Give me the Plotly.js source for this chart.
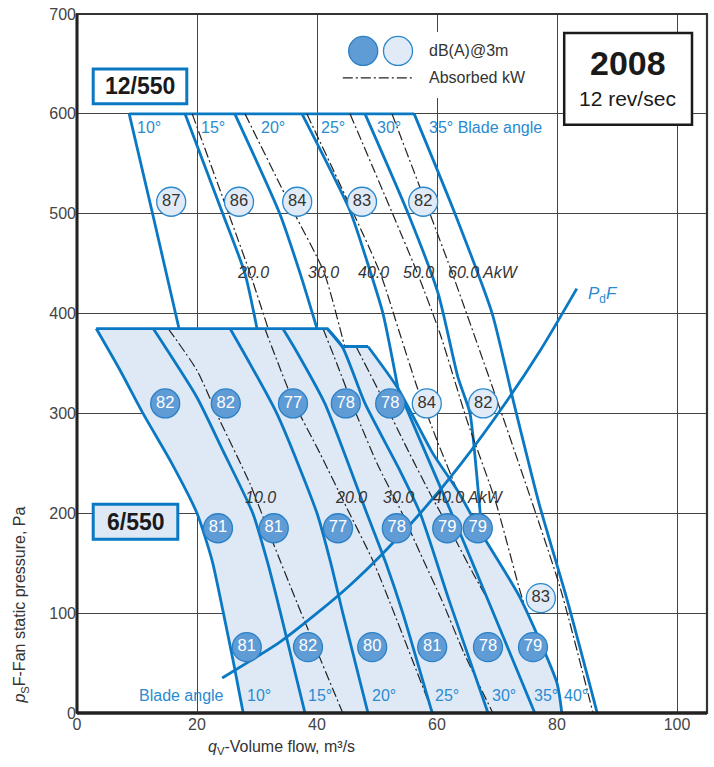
<!DOCTYPE html>
<html><head><meta charset="utf-8">
<script src="https://cdn.plot.ly/plotly-3.0.1.min.js"></script>
<style>html,body{margin:0;padding:0;background:#fff}#c{width:714px;height:767px}</style>
</head><body><div id="c"></div>
<script>
// ---------- data (volume flow m3/s, static pressure Pa) ----------
const xTicks = [0,20,40,60,80,100];
const yTicks = [0,100,200,300,400,500,600,700];

// 12/550 family (upper)
const upTopX = [8.7,56.2], upTopY = [600,600];
const up10X = [8.7,12.6,17.0], up10Y = [600,500,385];
const up15X = [18.0,24.3,28.0,30.0], up15Y = [600,500,440,385];
const up20X = [26.3,33.8,37.2,40.0], up20Y = [600,500,440,385];
const up25X = [37.5,45.5,48.3,51.0,53.5], up25Y = [600,503,453,400,325];
const up30X = [48.0,55.2,60.2,63.5,65.5,66.6,67.5], up30Y = [600,500,420,336,300,240,180];
const up35X = [56.2,63.0,69.2,72.7,77.0,81.7,86.7], up35Y = [600,500,400,313,210,113,0];
const upKW20X = [19.2,28.8,31.8,32.6], upKW20Y = [600,441,386,372];
const upKW30X = [28.0,36.0,41.2,44.5,45.5], upKW30Y = [600,503,441,370,350];
const upKW40X = [38.3,50.5,53.8,56.7,60.0,63.8,67.0], upKW40Y = [600,441,380,326,273,216,160];
const upKW50X = [45.5,56.7,60.5,65.0,69.7,73.8,75.0], upKW50Y = [600,441,380,293,213,123,100];
const upKW60X = [52.5,62.5,71.0,80.5,86.0], upKW60Y = [600,441,296,126,0];

// 6/550 family (lower, shaded)
const loTopX = [3.2,41.7,44.2,48.5], loTopY = [385,385,367,367];
const lo10X = [3.2,7.2,11.0,15.8,20.0,22.5,24.3,26.0,27.7], lo10Y = [385,343,300,250,200,153,103,53,0];
const lo15X = [12.7,20.0,24.3,29.3,31.8,33.8,38.0], lo15Y = [385,316,263,200,150,103,0];
const lo20X = [25.5,33.3,40.0,42.3,44.3,48.5], lo20Y = [385,300,200,150,100,0];
const lo25X = [34.3,36.5,41.3,48.3,51.5,54.3,59.2], lo25Y = [385,363,310,200,150,100,0];
const lo30X = [41.7,44.2,48.0,53.8,57.2,62.0,68.5], lo30Y = [385,367,310,243,200,113,0];
const lo35X = [53.5,57.2,63.5,68.3,76.3], lo35Y = [325,273,185,116,0];
const lo40X = [48.5,53.5,59.3,63.5,67.6,73.8,80.0,80.8], lo40Y = [367,325,260,222,178,116,30,0];
const loKW10X = [15.2,20.0,23.8,28.8,32.7,36.7,44.3], loKW10Y = [385,343,293,230,170,110,0];
const loKW20X = [31.3,36.0,40.5,45.0,49.5,59.3], loKW20Y = [385,313,260,205,150,0];
const loKW30X = [41.0,43.3,46.5,50.0,54.2,57.2,60.8,64.5,69.3], loKW30Y = [385,350,300,250,200,160,113,60,0];
const loKW40X = [46.5,50.5,55.0,59.0,62.5,66.0,68.5], loKW40Y = [367,320,265,218,180,140,113];

// Pd F line
const pdX = [24.2,28.8,33.8,40.0,45.5,51.0,57.2,63.8,71.7,77.2,83.3];
const pdY = [35,52,71,100,128,160,200,248,313,363,425];

// dB(A) markers
const dbDarkX = [14.7,24.8,36.0,44.8,52.2, 23.5,32.8,43.5,53.3,61.7,66.8, 28.3,38.5,49.2,59.2,68.5,76.0];
const dbDarkY = [310,310,310,310,310, 185,185,185,185,185,185, 66,66,66,66,66,66];
const dbDarkT = ['82','82','77','78','78','81','81','77','78','79','79','81','82','80','81','78','79'];
const dbLightX = [15.7,27.0,36.7,47.5,57.7,58.3,67.7,77.3];
const dbLightY = [512,512,512,512,512,310,310,115];
const dbLightT = ['87','86','84','83','82','84','82','83'];

// labels
const upAngleLbl = ['10°','15°','20°','25°','30°','35° Blade angle'];
const upAngleX = [9.7,20.3,30.3,40.3,49.7,58.3];
const loAngleLbl = ['Blade angle','10°','15°','20°','25°','30°','35°','40°'];
const loAngleX = [10.0,28.0,38.2,48.8,59.3,68.8,75.8,80.8];
const upKwLbl = ['20.0','30.0','40.0','50.0','60.0 AkW'];
const upKwX = [26.3,38.2,46.5,54.0,61.5];
const loKwLbl = ['10.0','20.0','30.0','40.0 AkW'];
const loKwX = [27.6,42.6,50.6,59.0];

// ---------- styling ----------
const BLUE = '#0a78c3', LBLUE = '#2a8bd0', FILL = '#dfe9f6';
const FONT = 'Liberation Sans, Arial, sans-serif';
const DD = '10px,3px,2px,3px';
const traces = [];
function L(x,y,color,width,dash,shape){traces.push({x:x,y:y,type:'scatter',mode:'lines',line:{color:color,width:width,dash:dash||'solid',shape:shape||'linear',smoothing:0.6},hoverinfo:'skip',showlegend:false});}

// upper family
L(upTopX,upTopY,BLUE,2.8);
[[up10X,up10Y],[up15X,up15Y],[up20X,up20Y],[up25X,up25Y],[up30X,up30Y],[up35X,up35Y]].forEach(p=>L(p[0],p[1],BLUE,2.8,'solid','spline'));
[[upKW20X,upKW20Y],[upKW30X,upKW30Y],[upKW40X,upKW40Y],[upKW50X,upKW50Y],[upKW60X,upKW60Y]].forEach(p=>L(p[0],p[1],'#222',1.2,DD,'spline'));

// lower shaded area
const fx = loTopX.concat(lo40X.slice(1), lo10X.slice().reverse());
const fy = loTopY.concat(lo40Y.slice(1), lo10Y.slice().reverse());
traces.push({x:fx,y:fy,type:'scatter',mode:'lines',fill:'toself',fillcolor:FILL,line:{width:0,color:FILL},hoverinfo:'skip',showlegend:false});

[[loKW10X,loKW10Y],[loKW20X,loKW20Y],[loKW30X,loKW30Y],[loKW40X,loKW40Y]].forEach(p=>L(p[0],p[1],'#222',1.2,DD,'spline'));
L(loTopX,loTopY,BLUE,2.8);
[[lo10X,lo10Y],[lo15X,lo15Y],[lo20X,lo20Y],[lo25X,lo25Y],[lo30X,lo30Y],[lo35X,lo35Y],[lo40X,lo40Y]].forEach(p=>L(p[0],p[1],BLUE,2.8,'solid','spline'));

// Pd F
traces.push({x:pdX,y:pdY,type:'scatter',mode:'lines',line:{color:BLUE,width:2.8,shape:'spline',smoothing:0.8},hoverinfo:'skip',showlegend:false});

// circles
traces.push({x:dbLightX,y:dbLightY,text:dbLightT,type:'scatter',mode:'markers+text',textposition:'middle center',
  marker:{size:29,color:'#e1ebf7',line:{color:'#2a88cc',width:1.3}},textfont:{family:FONT,size:16.5,color:'#333'},hoverinfo:'skip',showlegend:false});
traces.push({x:dbDarkX,y:dbDarkY,text:dbDarkT,type:'scatter',mode:'markers+text',textposition:'middle center',
  marker:{size:29,color:'#5f9cd6',line:{color:'#2a80c6',width:1.3}},textfont:{family:FONT,size:16.5,color:'#fff'},hoverinfo:'skip',showlegend:false});

const ann = [];
upAngleLbl.forEach((t,i)=>ann.push({x:upAngleX[i],y:586,text:t,xanchor:'left',yanchor:'middle',showarrow:false,font:{family:FONT,size:16,color:LBLUE}}));
loAngleLbl.forEach((t,i)=>ann.push({x:loAngleX[i],y:18,text:t,xanchor:'left',yanchor:'middle',showarrow:false,font:{family:FONT,size:16,color:LBLUE}}));
upKwLbl.forEach((t,i)=>ann.push({x:upKwX[i],y:441,text:'<i>'+t+'</i>',xanchor:'left',yanchor:'middle',showarrow:false,font:{family:FONT,size:16,color:'#333'}}));
loKwLbl.forEach((t,i)=>ann.push({x:loKwX[i],y:216,text:'<i>'+t+'</i>',xanchor:'left',yanchor:'middle',showarrow:false,font:{family:FONT,size:16,color:'#333'}}));
ann.push({x:84.8,y:419,text:'<i>P</i><sub>d</sub><i>F</i>',xanchor:'left',yanchor:'middle',showarrow:false,font:{family:FONT,size:17,color:LBLUE}});
ann.push({x:10.5,y:627.5,text:'<b>12/550</b>',showarrow:false,font:{family:FONT,size:23,color:'#1a1a1a'}});
ann.push({x:9.75,y:191.5,text:'<b>6/550</b>',showarrow:false,font:{family:FONT,size:23,color:'#1a1a1a'}});
ann.push({x:91.8,y:651,text:'<b>2008</b>',showarrow:false,font:{family:FONT,size:34,color:'#1a1a1a'}});
ann.push({x:91.8,y:615,text:'12 rev/sec',showarrow:false,font:{family:FONT,size:21,color:'#1a1a1a'}});
ann.push({x:58.3,y:663,text:'dB(A)@3m',xanchor:'left',showarrow:false,font:{family:FONT,size:16,color:'#333'}});
ann.push({x:58.3,y:636,text:'Absorbed kW',xanchor:'left',showarrow:false,font:{family:FONT,size:16,color:'#333'}});
ann.push({x:34,xref:'x',y:-0.05,yref:'paper',text:'<i>q</i><sub>V</sub>-Volume flow, m³/s',showarrow:false,yanchor:'middle',font:{family:FONT,size:16,color:'#333'}});
ann.push({x:-0.108,xref:'paper',y:108,yref:'y',text:'<i>p</i><sub>S</sub>F-Fan static pressure, Pa',textangle:-90,showarrow:false,font:{family:FONT,size:16,color:'#333'}});

const shapes = [
  {type:'rect',xref:'x',yref:'y',x0:42.5,x1:78,y0:616,y1:682,fillcolor:'#fff',line:{width:0},layer:'above'},
  {type:'circle',xref:'x',yref:'y',x0:47.7-2.42,x1:47.7+2.42,y0:663-14.5,y1:663+14.5,fillcolor:'#5f9cd6',line:{color:'#2a80c6',width:1.3},layer:'above'},
  {type:'circle',xref:'x',yref:'y',x0:53.5-2.42,x1:53.5+2.42,y0:663-14.5,y1:663+14.5,fillcolor:'#e1ebf7',line:{color:'#2a88cc',width:1.3},layer:'above'},
  {type:'line',xref:'x',yref:'y',x0:44.3,x1:55.8,y0:636,y1:636,line:{color:'#222',width:1.3,dash:DD},layer:'above'},
  {type:'rect',xref:'x',yref:'y',x0:81.2,x1:102.5,y0:589,y1:681,fillcolor:'#fff',line:{color:'#1a1a1a',width:2.5},layer:'above'},
  {type:'rect',xref:'x',yref:'y',x0:2.7,x1:18.3,y0:610,y1:645,fillcolor:'#fff',line:{color:BLUE,width:3},layer:'above'},
  {type:'rect',xref:'x',yref:'y',x0:2.7,x1:16.8,y0:174,y1:209,fillcolor:FILL,line:{color:BLUE,width:3},layer:'above'},
  {type:'rect',xref:'paper',yref:'paper',x0:0,x1:1,y0:0,y1:1,line:{color:'#333',width:2.2},layer:'above'},
  {type:'line',xref:'paper',yref:'paper',x0:0,x1:0,y0:0,y1:1,line:{color:'#222',width:3},layer:'above'},
  {type:'line',xref:'paper',yref:'paper',x0:0,x1:1,y0:0,y1:0,line:{color:'#222',width:3.5},layer:'above'}
];

const layout = {
  width:714,height:767,margin:{l:77,r:7,t:14,b:54},
  paper_bgcolor:'#fff',plot_bgcolor:'#fff',showlegend:false,hovermode:false,
  font:{family:FONT},
  xaxis:{range:[0,105],tickvals:xTicks,showgrid:true,gridcolor:'#444',gridwidth:1,zeroline:false,showline:false,ticks:'',
    tickfont:{family:FONT,size:16,color:'#444'},fixedrange:true},
  yaxis:{range:[0,700],tickvals:yTicks,showgrid:true,gridcolor:'#444',gridwidth:1,zeroline:false,showline:false,ticks:'',
    tickfont:{family:FONT,size:16,color:'#444'},fixedrange:true},
  annotations:ann,shapes:shapes
};
Plotly.newPlot('c',traces,layout,{staticPlot:true,displayModeBar:false});
</script></body></html>
